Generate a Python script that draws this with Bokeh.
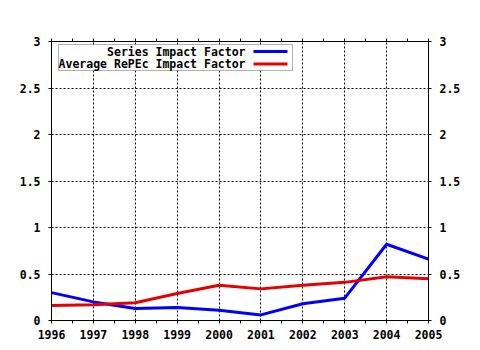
from bokeh.plotting import figure
from bokeh.models import (Range1d, LinearAxis, FixedTicker, Label, BoxAnnotation)
from bokeh.embed import file_html
from bokeh.resources import INLINE

years = [1996, 1997, 1998, 1999, 2000, 2001, 2002, 2003, 2004, 2005]
series_if = [0.30, 0.20, 0.13, 0.14, 0.11, 0.06, 0.18, 0.24, 0.82, 0.66]
average_if = [0.16, 0.17, 0.19, 0.29, 0.38, 0.34, 0.38, 0.41, 0.47, 0.45]
series_names = ["Series Impact Factor", "Average RePEc Impact Factor"]
series_colors = ["#0000ff", "#e60000"]
y_ticks = [0, 0.5, 1, 1.5, 2, 2.5, 3]
y_tick_labels = ["0", "0.5", "1", "1.5", "2", "2.5", "3"]
x_minor = [y + 0.5 for y in years[:-1]]

FONT = "DejaVu Sans Mono"

p = figure(width=480, height=350, output_backend="svg", toolbar_location=None,
           x_range=Range1d(years[0], years[-1]), y_range=Range1d(0, 3),
           min_border_left=51, min_border_right=52, min_border_top=41, min_border_bottom=30,
           x_axis_location=None, y_axis_location=None)
p.background_fill_color = "white"
p.border_fill_color = "white"
p.outline_line_color = "black"
p.outline_line_width = 1

xt = FixedTicker(ticks=years, minor_ticks=x_minor)
yt = FixedTicker(ticks=y_ticks)
ylab = {t: l for t, l in zip(y_ticks, y_tick_labels)}
xlab = {y: str(y) for y in years}

def style(ax, labels=True):
    ax.axis_line_color = "black"
    ax.major_tick_line_color = "black"
    ax.minor_tick_line_color = "black"
    ax.major_tick_in = 0
    ax.minor_tick_in = 0
    ax.major_tick_out = 3
    ax.minor_tick_out = 3
    ax.major_label_text_font = FONT
    ax.major_label_text_font_style = "bold"
    ax.major_label_text_font_size = "11.5px"
    ax.major_label_text_color = "black"
    if not labels:
        ax.major_label_text_alpha = 0
        ax.major_label_text_font_size = "1px"

bottom = LinearAxis(ticker=xt, major_label_overrides=xlab, major_label_standoff=6)
top = LinearAxis(ticker=xt, major_label_overrides=xlab)
left = LinearAxis(ticker=yt, major_label_overrides=ylab, major_label_standoff=8)
right = LinearAxis(ticker=yt, major_label_overrides=ylab, major_label_standoff=8)
style(bottom); style(top, labels=False); style(left); style(right)
for ax in (left, right):
    ax.minor_tick_line_color = None
p.add_layout(bottom, "below")
p.add_layout(top, "above")
p.add_layout(left, "left")
p.add_layout(right, "right")

p.xgrid.ticker = xt
p.ygrid.ticker = yt
for g in (p.xgrid, p.ygrid):
    g.grid_line_color = "black"
    g.grid_line_dash = "2 2"
    g.grid_line_width = 1

p.line(years, series_if, line_color=series_colors[0], line_width=3)
p.line(years, average_if, line_color=series_colors[1], line_width=3)

# custom legend (label text right-aligned, sample line on the right)
p.add_layout(BoxAnnotation(left=7, right=241, bottom=250, top=276,
                           left_units="screen", right_units="screen",
                           top_units="screen", bottom_units="screen",
                           fill_color="white", fill_alpha=1,
                           line_color="black", line_width=1))
rows_y = [269, 256.5]
for name, color, yy in zip(series_names, series_colors, rows_y):
    p.add_layout(Label(x=194, y=yy, x_units="screen", y_units="screen", text=name,
                       text_align="right", text_baseline="middle",
                       text_font=FONT, text_font_style="bold",
                       text_font_size="11.5px", text_color="black"))
    p.add_layout(BoxAnnotation(left=202, right=236, bottom=yy - 1.5, top=yy + 1.5,
                               left_units="screen", right_units="screen",
                               top_units="screen", bottom_units="screen",
                               fill_color=color, fill_alpha=1, line_color=None))

open("out.html", "w").write(file_html(p, INLINE))
